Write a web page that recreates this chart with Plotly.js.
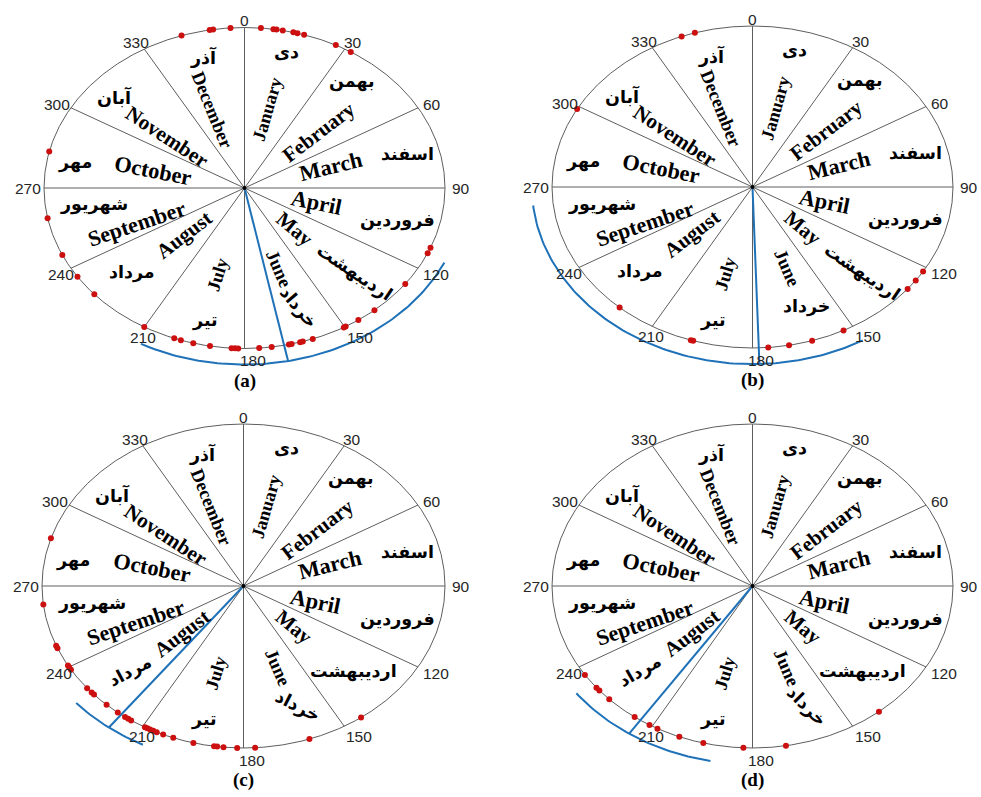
<!DOCTYPE html>
<html><head><meta charset="utf-8">
<script src="https://cdn.plot.ly/plotly-3.0.1.min.js"></script>
<style>html,body{margin:0;padding:0;background:#fff}</style>
</head><body>
<div id="chart" style="width:981px;height:797px"></div>
<script>
// ---------- data ----------
const monthsEn = ["January","February","March","April","May","June","July","August","September","October","November","December"];
const monthsFa = ["دی","بهمن","اسفند","فروردین","اردیبهشت","خرداد","تیر","مرداد","شهریور","مهر","آبان","آذر"];
const angleTicks = [0,30,60,90,120,150,180,210,240,270,300,330];
const panelCaptions = ["(a)","(b)","(c)","(d)"];

// event directions (degrees, clockwise from top)
const eventsA = [341.7,350,351,356,4.7,8.3,9.2,11,14.1,15.3,17.3,27.1,32,111.9,114,126.7,139.6,145.4,149.7,150.3,160.1,163.1,163.9,166.4,167.2,172.2,175.8,181.8,182.7,183.7,189.9,194.8,198.5,200.5,210,228.5,236.4,245.3,259.1,283.1];
const eventsB = [121.7,125.5,129.3,153,162.7,169.5,175.5,197.2,197.9,221.5,299,339.3,343.3];
const eventsC = [287.1,263.4,248.4,247.4,240.6,239.9,238.9,230.9,228.9,227.9,222.8,218.6,216,214.9,213.9,209.3,208.5,207.6,206.6,205.5,203.5,200.4,194.4,188.4,187.5,185.7,181.8,176.7,160.9,144.3];
const eventsD = [236.7,231.1,229.8,225.6,216,210.9,208.3,201.4,194.2,182.6,170.4,140.9];

// mean direction and spread arc (degrees)
const meanDir = [168.6,178.2,217.4,214];
const arcStart = [115,150,207,191];
const arcEnd = [208,264,229,233];

// ---------- styles / positions ----------
const W=981,H=797;
const enAng = [13,46.4,73,104.5,136,161,194,226.3,247.3,283.8,309.4,342];
const enR = [0.5,0.51,0.45,0.37,0.36,0.53,0.55,0.42,0.58,0.47,0.5,0.51];
const faR = [0.875,0.85,0.84,0.79,0.76,0.79,0.85,0.77,0.76,0.86,0.86,0.84];
const faAng = [14,39,75.5,105,134,160,193.5,227,262,280.7,311,346];
const faRot = [
  {4:34,5:50},
  {4:34},
  {5:27,7:-28},
  {5:45,7:-30}
];
const geo = [
  {cx:244.5,cy:188,rx:200.5,ry:160.5,dx:[0,0.5],dy:[0.5,1]},
  {cx:752.5,cy:187,rx:200.5,ry:161,dx:[0.5,1],dy:[0.5,1]},
  {cx:243.5,cy:586,rx:201.5,ry:162,dx:[0,0.5],dy:[0,0.5]},
  {cx:752.5,cy:586,rx:200.5,ry:162,dx:[0.5,1],dy:[0,0.5]}
];
const events = [eventsA,eventsB,eventsC,eventsD];
const ARC_R = 1.1;
const GREY = '#5e5e5e', BLUE = '#1f72b8', RED = '#cc1010';

const rad = d => d*Math.PI/180;
const X = (r,d) => r*Math.sin(rad(d));
const Y = (r,d) => r*Math.cos(rad(d));

const traces=[], shapes=[], annotations=[];
const layout = {width:W,height:H,margin:{l:0,r:0,t:0,b:0},showlegend:false,
  paper_bgcolor:'#fff',plot_bgcolor:'#fff'};

geo.forEach((g,i)=>{
  const n = i===0?'':String(i+1);
  const xa='x'+n, ya='y'+n;
  const px0=g.dx[0]*W, px1=g.dx[1]*W, pyTop=(1-g.dy[1])*H, pyBot=(1-g.dy[0])*H;
  layout['xaxis'+n]={domain:g.dx,range:[(px0-g.cx)/g.rx,(px1-g.cx)/g.rx],visible:false,fixedrange:true};
  layout['yaxis'+n]={domain:g.dy,range:[(g.cy-pyBot)/g.ry,(g.cy-pyTop)/g.ry],visible:false,fixedrange:true};

  // frame ellipse and spokes
  shapes.push({type:'circle',xref:xa,yref:ya,x0:-1,x1:1,y0:-1,y1:1,line:{color:GREY,width:1},layer:'below'});
  angleTicks.forEach(t=>{
    shapes.push({type:'line',xref:xa,yref:ya,x0:0,y0:0,x1:X(1,t),y1:Y(1,t),line:{color:GREY,width:1},layer:'below'});
    const s=Math.sin(rad(t)), c=Math.cos(rad(t));
    annotations.push({xref:xa,yref:ya,x:X(1,t),y:Y(1,t),text:String(t),showarrow:false,
      xanchor:'center',yanchor:'middle',
      xshift:16*s+8*Math.max(0,-c), yshift: c>0?7*c:12*c,
      font:{family:'Liberation Sans, Arial, sans-serif',size:15.5,color:'#262626'}});
  });

  // spread arc
  const arcAngles=[];
  for(let a=arcStart[i]; a<=arcEnd[i]+1e-9; a+=1) arcAngles.push(a);
  if(arcAngles[arcAngles.length-1]!==arcEnd[i]) arcAngles.push(arcEnd[i]);
  traces.push({type:'scatter',mode:'lines',xaxis:xa,yaxis:ya,hoverinfo:'skip',
    x:arcAngles.map(a=>X(ARC_R,a)),y:arcAngles.map(a=>Y(ARC_R,a)),line:{color:BLUE,width:2}});
  // mean direction
  traces.push({type:'scatter',mode:'lines',xaxis:xa,yaxis:ya,hoverinfo:'skip',
    x:[0,X(ARC_R,meanDir[i])],y:[0,Y(ARC_R,meanDir[i])],line:{color:BLUE,width:2}});
  // events
  traces.push({type:'scatter',mode:'markers',xaxis:xa,yaxis:ya,
    x:events[i].map(a=>X(1,a)),y:events[i].map(a=>Y(1,a)),
    marker:{color:RED,size:6}});
  // centre
  traces.push({type:'scatter',mode:'markers',xaxis:xa,yaxis:ya,x:[0],y:[0],marker:{color:'#000',size:4},hoverinfo:'skip'});

  // English month labels, along radius
  monthsEn.forEach((m,k)=>{
    const th = enAng[k];
    const vx = g.rx*Math.sin(rad(th)), vy = -g.ry*Math.cos(rad(th));
    let ang = Math.atan2(vy,vx)*180/Math.PI;
    if(ang>90) ang-=180; if(ang<-90) ang+=180;
    const cs = Math.cos(rad(ang));
    annotations.push({xref:xa,yref:ya,x:X(enR[k],th),y:Y(enR[k],th),text:'<b>'+m+'</b>',showarrow:false,
      xanchor:'center',yanchor:'middle',textangle:ang,
      font:{family:'Liberation Serif, Times New Roman, serif',size:18+4.5*cs*cs,color:'#000'}});
  });
  // Persian month labels
  monthsFa.forEach((m,k)=>{
    annotations.push({xref:xa,yref:ya,x:X(faR[k],faAng[k]),y:Y(faR[k],faAng[k]),text:m,showarrow:false,
      xanchor:'center',yanchor:'middle',textangle:faRot[i][k]||0,
      font:{family:'DejaVu Sans, sans-serif',size:17.5,color:'#000',weight:'bold'}});
  });
  // caption
  annotations.push({xref:xa,yref:ya,x:0,y:-1.2,text:'<b>'+panelCaptions[i]+'</b>',showarrow:false,
    xanchor:'center',yanchor:'middle',font:{family:'Liberation Serif, Times New Roman, serif',size:19,color:'#000'}});
});

layout.shapes=shapes; layout.annotations=annotations;
Plotly.newPlot('chart',traces,layout,{staticPlot:true,displayModeBar:false});
</script>
</body></html>
